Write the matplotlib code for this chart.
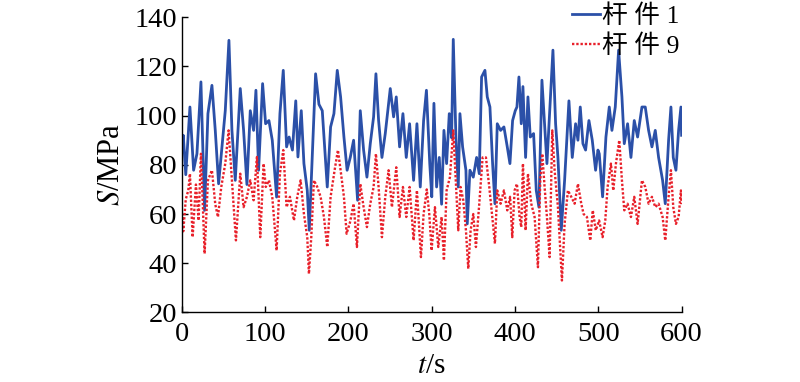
import matplotlib
matplotlib.use("Agg")
import matplotlib.pyplot as plt

# Member 1 (blue) stress
t1 = [0, 2, 5, 10, 14.4, 18.4, 23.2, 27.6, 31.6, 36.4, 40.4, 44.4, 48.4, 52.4, 56.8, 60.4, 64.4,
      70.4, 74.4, 78.4, 82.4, 86.4, 89.2, 92.4, 97.2, 100.8, 104.8, 108.8, 114, 118, 122, 126, 129,
      133, 137, 139.6, 143.6, 146.8, 150.8, 153.2, 156.8, 160.8, 164.8, 168.8, 171.6, 174.8, 178.8,
      182.8, 186.8, 190.8, 194.8, 198.6, 202.4, 206.4, 211.2, 214.4, 218.4, 222.4, 226.4, 230.4,
      233.2, 236.4, 240.4, 244.4, 250.4, 254.4, 257.6, 261.6, 265.6, 269.6, 273.6, 278.4, 282.4,
      286.4, 290.4, 293.8, 297.8, 300.2, 302.8, 306, 309.2, 312, 314.8, 318, 321.2, 324, 326, 329.2,
      332, 334, 337.2, 341.2, 342.8, 346, 350, 354, 357.2, 360, 364, 366.8, 370, 373.2, 376, 378.8,
      382.8, 386.8, 390.8, 394, 397.2, 400.4, 402.4, 404.8, 407.6, 409.6, 412.8, 415.6, 418.4, 422.4,
      425.6, 428.8, 432.4, 435.6, 438.4, 441.6, 445.6, 448.8, 451.6, 455.6, 459.6, 464.8, 468.8,
      472.8, 475.6, 478.4, 481.6, 484.8, 488.8, 492.8, 496.8, 499.6, 501.2, 505.2, 509.2, 513.2,
      516.4, 520.4, 524.4, 528.4, 531.2, 535.2, 539.2, 543.2, 547.2, 552.4, 556.4, 560.4, 564.4,
      568.4, 572.4, 577.2, 580.4, 584.4, 587.2, 590, 593.2, 596.4, 599.2, 600]
s1 = [86, 92, 76, 103.5, 77.8, 84.5, 113.7, 61.5, 100.8, 112.3, 94, 72.3, 87, 102, 130.6, 94, 73.7,
      111, 94, 72, 102, 94, 110.3, 77.8, 113, 96.7, 98, 90, 66.9, 100.8, 118.4, 87.3, 91.3,
      86, 106, 83.2, 102, 80.5, 69.6, 53.4, 83.2, 117, 104.6, 102, 87.3, 71, 95.4,
      100.8, 118.4, 107.6, 91.3, 77.8, 83, 90, 65.6, 102, 86, 75, 88.6, 99.5,
      117, 98, 83, 92.7, 111, 99.5, 107.6, 87.3, 100.8, 83, 96.7, 73.7, 96.7,
      71, 98, 110.3, 80.5, 67, 105, 71, 83, 64, 94, 80.5, 100.8, 91, 131, 91,
      71, 100.8, 87.3, 77.8, 56, 77.8, 75, 83, 76.4, 115.7, 118.4, 107.6, 103.5, 80.5, 64.2, 96.7,
      94, 95.4, 87.3, 80.5, 98, 102, 103.5, 115.7, 96.7, 111.8, 83, 107.6, 91.3, 92.7,
      69.6, 62.8, 114.4, 96.7, 80.5, 100.8, 126.6, 96.7, 83, 53.4, 73.7, 106, 83,
      96.7, 90, 103.5, 88.6, 86, 98, 90, 77.8, 86, 84.5, 67, 91.3, 103.5,
      94, 103.5, 126.6, 107.6, 88.6, 96.7, 83, 98, 91.3, 103.5, 103.5, 94, 87.3,
      94, 83, 73.7, 64.2, 90, 103.5, 83, 77.8, 94, 103.5, 92]

# Member 9 (red) stress
t9 = [0, 2, 5, 8, 10, 13.2, 17.2, 20.4, 23.2, 27.6, 31.6, 36.4, 40.4, 43.6, 47.6, 52.4, 56.4, 60.4,
      65.2, 70.4, 74.4, 78.4, 82.4, 86.4, 90.4, 94.4, 98.4, 101, 104.8, 108.8, 114, 118, 122, 126,
      130, 134.8, 138.8, 142.8, 146.8, 150.8, 152.8, 155.6, 158.8, 162.8, 166.8, 170.8, 174.8,
      178.8, 183.6, 187.6, 190.8, 194.8, 198, 202.4, 206.4, 210.4, 214.4, 218.4, 222.4, 226.4,
      230.4, 233.2, 236.4, 240.4, 244.4, 248.4, 252.4, 257.6, 261.6, 265.6, 269.6, 273.6, 278.4,
      282.4, 287.2, 290.4, 294.2, 297.2, 300, 304, 308, 312, 314.8, 318, 322, 326, 329.2, 332, 334.8,
      338, 341.2, 344, 346.8, 350, 353.2, 357.2, 361.2, 365.2, 369.2, 373.2, 376, 378.8, 382.8,
      386.8, 390.8, 394.2, 396.8, 399.6, 402.4, 405.6, 407.6, 409.6, 412.8, 415.6, 419.6, 423.6,
      427.6, 430.4, 432.8, 435.6, 438.4, 441.6, 444.8, 447.6, 451.6, 453.6, 456.4, 459.6, 463.6,
      467.6, 471.6, 475.6, 479.6, 482.4, 486.4, 490.4, 493.4, 497, 501, 505.2, 508.4, 511.2, 515.2,
      518, 521.2, 525.2, 528.4, 531.2, 535.2, 539.2, 543.2, 547.2, 552.4, 556.4, 560.4, 564.4,
      568.4, 572.4, 577.2, 580.4, 584.4, 587.2, 590, 593.2, 596.4, 599.2, 600]
s9 = [62, 53, 66, 69.6, 76.4, 50.6, 72, 57.4, 84.5, 43.9, 73.7, 77.8, 64, 58.8, 71, 80.5, 94, 73.7,
      49.3, 76.4, 62.8, 67, 73.7, 65.6, 83.2, 50.6, 80.5, 71, 73.7, 67, 45.2, 76.4, 86, 62.8,
      67, 57.4, 67, 73.7, 60, 50.6, 35.7, 50.6, 73.7, 71, 67, 58.8, 46.6,
      67, 77.8, 86, 77.8, 67, 52, 57, 64.2, 46.6, 72.3, 62.8, 54.7, 64.2,
      71, 84.5, 71, 50.6, 67, 77.8, 62.8, 79, 58.8, 71, 58.8, 71, 49.3,
      69.6, 42.5, 60, 70, 60, 45.2, 62.8, 46.6, 58.8, 41.2, 69.6, 75, 94, 72.3, 53.4, 71,
      65.6, 53.4, 37.8, 53.4, 60, 46.6, 64.2, 83, 83, 71, 57.4, 48, 69.6, 64.2,
      69.6, 61.5, 67, 50.6, 69.6, 72.3, 58.8, 54.7, 80.5, 53.4, 76.4, 64.2, 58.8,
      38.4, 73.7, 84.5, 71, 58.8, 42.5, 94, 77.8, 62.8, 50.6, 33, 56, 69.6,
      67, 64.2, 72.3, 64.2, 60, 58.8, 49.3, 61.5, 53.4, 57.4, 50.6, 57.4, 71, 80.5,
      69.6, 80.5, 90, 73.7, 61.5, 64.2, 58.8, 67, 56, 73.7, 71, 64.2, 67,
      62.8, 64.2, 58.8, 49.3, 67, 77.8, 62.8, 56, 58.8, 69.6, 64]

xticks = [0, 100, 200, 300, 400, 500, 600]
yticks = [20, 40, 60, 80, 100, 120, 140]
labels = ["杆 件 1", "杆 件 9"]

plt.rcParams['font.family'] = ['Liberation Serif', 'Noto Sans CJK SC']
plt.rcParams['mathtext.fontset'] = 'stix'

fig = plt.figure(figsize=(8, 3.82), dpi=100)
ax = fig.add_axes([0.227, 0.182, 0.625, 0.773])

ax.plot(t1, s1, color='#2b50a8', lw=2.0, label=labels[0])
ax.plot(t9, s9, color='#e8202a', lw=1.7, ls=(0, (1, 0.8)), label=labels[1])

ax.set_xlim(0, 600)
ax.set_ylim(20, 140)
ax.set_xticks(xticks)
ax.set_yticks(yticks)
ax.tick_params(direction='in', labelsize=20.5, length=4, width=1)
ax.tick_params(axis='x', pad=7)
ax.tick_params(axis='y', pad=3)
for sp in ['top', 'right']:
    ax.spines[sp].set_visible(False)
for sp in ['left', 'bottom']:
    ax.spines[sp].set_linewidth(1.0)

ax.set_xlabel('$t$/s', fontsize=21, labelpad=4)
ax.set_ylabel('$S$/MPa', fontsize=22, labelpad=7)

leg = ax.legend(loc='upper right', bbox_to_anchor=(679 / 800, 1 - 4 / 382), bbox_transform=fig.transFigure,
                frameon=False, fontsize=18.5, handlelength=1.1, handletextpad=0.05,
                labelspacing=0.25, borderaxespad=0, borderpad=0.0)

fig.savefig('out.png', dpi=100)
